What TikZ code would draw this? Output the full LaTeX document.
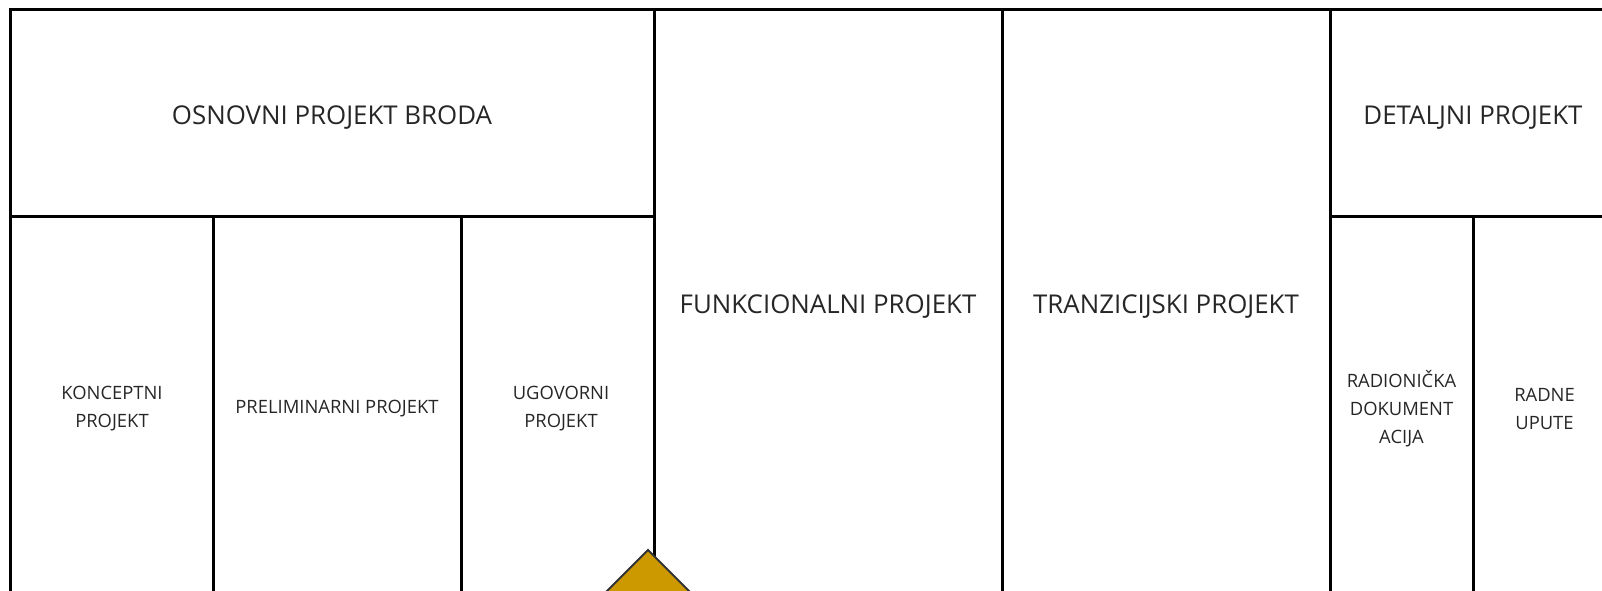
\documentclass[tikz,border=0pt]{standalone}
\usepackage{fontspec}
\setmainfont{Open Sans}
\begin{document}
\begin{tikzpicture}[x=0.75pt,y=-0.75pt,
  cell/.style={draw=black,line width=2.25pt},
  big/.style={text=black!85,font=\fontsize{19.4}{24}\selectfont,align=center},
  small/.style={text=black!85,font=\fontsize{13.8}{21}\selectfont,align=center},
  marker/.style={draw=black!80,line width=1.5pt,fill=gold,line join=miter}]
\definecolor{gold}{HTML}{CC9900}
\useasboundingbox (0,0) rectangle (1602,591);
\clip (0,0) rectangle (1602,591);
% cells
\draw[cell] (10,10) rectangle (654,217);
\draw[cell] (10,217) rectangle (213.5,600);
\draw[cell] (213.5,217) rectangle (461,600);
\draw[cell] (461,217) rectangle (654,600);
\draw[cell] (654,10) rectangle (1002,600);
\draw[cell] (1002,10) rectangle (1330,600);
\draw[cell] (1330,10) rectangle (1616,217);
\draw[cell] (1330,217) rectangle (1473,600);
\draw[cell] (1473,217) rectangle (1616,600);
% labels
\node[big] (osn) at (332,117.5) {OSNOVNI PROJEKT BRODA};
\node[small] (kon) at (112,408.5) {KONCEPTNI\\PROJEKT};
\node[small] (pre) at (337,408.5) {PRELIMINARNI PROJEKT};
\node[small] (ugo) at (561,408.5) {UGOVORNI\\PROJEKT};
\node[big] (fun) at (828,306.5) {FUNKCIONALNI PROJEKT};
\node[big] (tra) at (1166,306.5) {TRANZICIJSKI PROJEKT};
\node[big] (det) at (1473,117.5) {DETALJNI PROJEKT};
\node[small] (rad) at (1401.5,408.5) {RADIONIČKA\\DOKUMENT\\ACIJA};
\node[small] (upu) at (1544.5,408.5) {RADNE\\UPUTE};
% marker
\coordinate (apex) at (648,550);
\draw[marker] (apex) -- ++(-60,60) -- ++(120,0) -- cycle;
\end{tikzpicture}
\end{document}
